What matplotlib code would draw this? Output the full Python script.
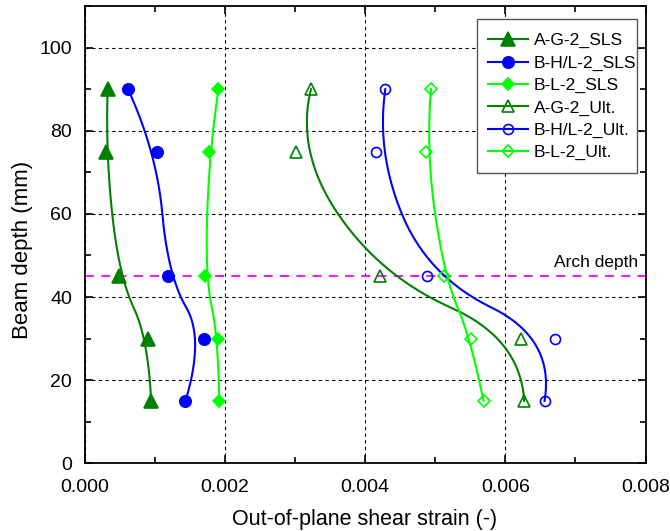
import numpy as np
import matplotlib
matplotlib.use("Agg")
import matplotlib.pyplot as plt
from matplotlib.patches import Rectangle
from matplotlib.ticker import MultipleLocator, FormatStrFormatter

plt.rcParams['font.family'] = ['Liberation Sans', 'DejaVu Sans']

# measured points
depth = [90, 75, 45, 30, 15]
ag2_sls = [0.00033, 0.00030, 0.00049, 0.00091, 0.00095]
bhl2_sls = [0.00062, 0.00103, 0.00119, 0.00171, 0.00144]
bl2_sls = [0.00191, 0.00178, 0.00172, 0.00191, 0.00192]
ag2_ult = [0.00323, 0.00301, 0.00422, 0.00622, 0.00627]
bhl2_ult = [0.00429, 0.00416, 0.00489, 0.00671, 0.00656]
bl2_ult = [0.00494, 0.00487, 0.00513, 0.00551, 0.00569]

labels = ['A-G-2_SLS', 'B-H/L-2_SLS', 'B-L-2_SLS', 'A-G-2_Ult.', 'B-H/L-2_Ult.', 'B-L-2_Ult.']
arch_depth = 45
arch_label = 'Arch depth'

dkgreen = '#008000'
blue = '#0000ff'
ltgreen = '#00ff00'


def bspline(xs, ys, k=2, n=300):
    # clamped uniform B-spline connector using the data points as control points
    P = np.column_stack([xs, ys]).astype(float)
    m = len(P)
    k = min(k, m - 1)
    inner = np.linspace(0, 1, m - k + 1)
    knots = np.concatenate([np.zeros(k), inner, np.ones(k)])
    u = np.linspace(0, 1, n)
    u[-1] -= 1e-12
    N = np.zeros((n, len(knots) - 1))
    for i in range(len(knots) - 1):
        N[:, i] = (u >= knots[i]) & (u < knots[i + 1])
    for d in range(1, k + 1):
        Nn = np.zeros((n, len(knots) - 1 - d))
        for i in range(len(knots) - 1 - d):
            a = knots[i + d] - knots[i]
            b = knots[i + d + 1] - knots[i + 1]
            t1 = (u - knots[i]) / a * N[:, i] if a > 0 else 0
            t2 = (knots[i + d + 1] - u) / b * N[:, i + 1] if b > 0 else 0
            Nn[:, i] = t1 + t2
        N = Nn
    C = N @ P
    return C[:, 0], C[:, 1]


fig = plt.figure(figsize=(6.7, 5.31), dpi=100)
ax = fig.add_axes([84.5 / 670, 1 - 463.3 / 531, 561 / 670, 457.3 / 531])

series = [
    (ag2_sls, dkgreen, '^', True, 9.4),
    (bhl2_sls, blue, 'o', True, 8.2),
    (bl2_sls, ltgreen, 'D', True, 6.0),
    (ag2_ult, dkgreen, '^', False, 8.6),
    (bhl2_ult, blue, 'o', False, 7.2),
    (bl2_ult, ltgreen, 'D', False, 6.0),
]

handles = []
for (xs, c, m, filled, ms), lab in zip(series, labels):
    cx, cy = bspline(xs, depth)
    ax.plot(cx, cy, color=c, lw=1.5, zorder=3)
    kw = dict(marker=m, ms=ms, markerfacecolor=c if filled else 'none',
              markeredgecolor=c, markeredgewidth=1.2)
    ax.plot(xs, depth, linestyle='none', zorder=4, **kw)
    h, = ax.plot([], [], color=c, lw=1.5, label=lab, **kw)
    handles.append(h)

ax.axhline(arch_depth, color='#ff00ff', ls=(0, (5, 4)), lw=1.3, zorder=2)
ax.text(0.00790, arch_depth + 1.6, arch_label, ha='right', va='bottom', fontsize=12.5)

ax.set_xlim(0, 0.008)
ax.set_ylim(0, 110)
ax.xaxis.set_major_locator(MultipleLocator(0.002))
ax.xaxis.set_minor_locator(MultipleLocator(0.001))
ax.yaxis.set_major_locator(MultipleLocator(20))
ax.yaxis.set_minor_locator(MultipleLocator(10))
ax.xaxis.set_major_formatter(FormatStrFormatter('%.3f'))
ax.grid(True, which='major', color='black', ls=(0, (3, 3)), lw=0.8, zorder=1)
ax.tick_params(which='both', direction='in', top=True, right=True, labelsize=14, width=1.2)
ax.tick_params(axis='x', which='major', pad=11)
ax.tick_params(axis='y', which='major', pad=9)
ax.tick_params(which='major', length=6)
ax.tick_params(which='minor', length=4)
for s in ax.spines.values():
    s.set_linewidth(1.3)

ax.set_xlabel('Out-of-plane shear strain (-)', fontsize=15.5, labelpad=10)
ax.set_ylabel('Beam depth (mm)', fontsize=16)
ax.yaxis.set_label_coords(-0.092, 0.466)

# legend frame and entries
fig.patches.append(Rectangle((477 / 670, 1 - 173 / 531), 160 / 670, 154 / 531,
                             transform=fig.transFigure, facecolor='white',
                             edgecolor='#555555', lw=1.0, zorder=5))
leg = fig.legend(handles=handles, loc='upper left', bbox_to_anchor=(488 / 670, 1 - 33 / 531),
                 fontsize=12.6, frameon=False, handlelength=2.29, labelspacing=0.4,
                 borderpad=0, handletextpad=0.34, borderaxespad=0)
leg.set_zorder(6)

fig.savefig('out.png', dpi=100)
